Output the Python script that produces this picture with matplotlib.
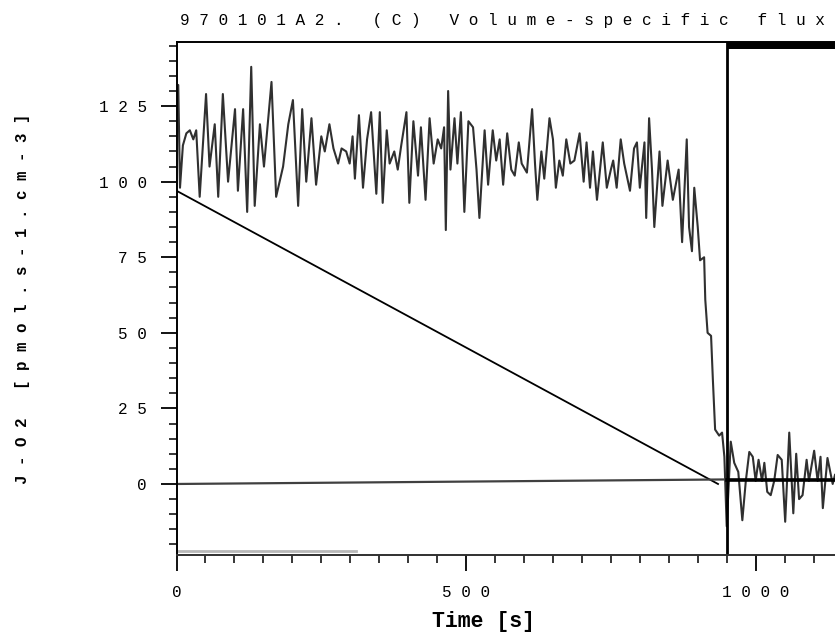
import matplotlib as mpl
mpl.use('agg')
import matplotlib.pyplot as plt
from matplotlib.ticker import MultipleLocator, FixedLocator

# flux trace vertices (time [s], J-O2)
flux_t = [0, 3, 6, 11, 17, 23, 29, 34, 40, 51, 57, 66, 72, 80, 89, 101, 106, 115, 122, 129,
          135, 144, 151, 164, 172, 184, 193, 201, 210, 217, 224, 233, 241, 250, 256, 264, 271, 279, 285, 293,
          299, 304, 308, 315, 322, 329, 336, 345, 351, 356, 363, 368, 376, 382, 388, 397, 402, 409, 417, 422,
          430, 437, 444, 451, 457, 462, 465, 469, 473, 480, 485, 491, 497, 504, 512, 518, 523, 532, 538, 546,
          552, 558, 564, 571, 578, 584, 591, 596, 605, 614, 619, 623, 630, 635, 644, 650, 655, 661, 667, 673,
          680, 687, 696, 703, 708, 714, 719, 726, 736, 743, 750, 754, 760, 767, 773, 783, 790, 795, 800, 808,
          811, 816, 821, 825, 834, 839, 848, 857, 867, 873, 881, 885, 890, 894, 900, 904, 911, 913, 917, 923,
          926, 930, 937, 942, 946, 950, 957, 963, 970, 977, 983, 989, 995, 1000, 1005, 1011, 1015, 1020, 1026, 1032,
          1038, 1045, 1051, 1058, 1065, 1070, 1075, 1081, 1088, 1092, 1101, 1107, 1112, 1116, 1124, 1133, 1137]
flux_v = [122, 132, 98, 112, 116, 117, 114, 117, 95, 129, 105, 119, 95, 129, 100, 124, 97, 124, 90, 138,
          92, 119, 105, 133, 95, 105, 119, 127, 92, 124, 100, 121, 99, 115, 110, 119, 111, 106, 111, 110,
          106, 115, 101, 122, 98, 114, 123, 96, 123, 93, 117, 106, 110, 104, 112, 123, 93, 120, 102, 118,
          94, 121, 106, 114, 111, 118, 84, 130, 104, 121, 106, 123, 90, 120, 118, 104, 88, 117, 99, 117,
          107, 114, 99, 116, 104, 102, 113, 106, 103, 124, 106, 94, 110, 101, 121, 114, 98, 107, 102, 114,
          106, 107, 116, 100, 113, 98, 110, 94, 113, 98, 104, 107, 98, 114, 106, 97, 111, 113, 98, 113,
          88, 121, 104, 85, 110, 92, 107, 94, 104, 80, 114, 85, 77, 98, 85, 74, 75, 61, 50, 49,
          35, 18, 16, 17, 9, -14, 14, 7, 4, -12, 1, 10.6, 9, 1, 8, 1, 7, -2.6, -3.7, 1,
          9.6, 8, -12.5, 17, -9.7, 10, -5, -3.7, 8, 1, 11, 1, 9, -8, 8.6, 0, 3]

# straight reference lines
diag_t = [0, 935]
diag_v = [97, 0]
base_t = [0, 950]
base_v = [0, 1.5]
base2_t = [950, 1137]
base2_v = [1.2, 1.2]
low_t = [0, 310]
low_v = [-22.3, -22.3]
mark_t = 950

yticks = [0, 25, 50, 75, 100, 125]
xticks = [0, 500, 1000]

def spaced(s):
    return ' '.join(s)

mono = 'Liberation Mono'

fig = plt.figure(figsize=(8.35, 6.33), dpi=100, facecolor='w')
ax = fig.add_axes([0.2114, 0.1232, 0.7886, 0.8104])

ax.plot(flux_t, flux_v, color='#303030', lw=1.5)
ax.plot(diag_t, diag_v, color='black', lw=1.3)
ax.plot(base_t, base_v, color='#404040', lw=1.6)
ax.plot(base2_t, base2_v, color='black', lw=2.6)
ax.plot(low_t, low_v, color='#b8b8b8', lw=2)
ax.axvline(mark_t, color='black', lw=2)
ax.fill_between([mark_t, 1140], 143.9, 146.5, color='black', lw=0)

ax.set_xlim(0, 1137)
ax.set_ylim(-23.5, 146.2)

ax.spines['right'].set_visible(False)
for s in ['left', 'bottom', 'top']:
    ax.spines[s].set_linewidth(1.4)
ax.spines['bottom'].set_color('#303030')

ax.xaxis.set_major_locator(FixedLocator(xticks))
ax.yaxis.set_major_locator(FixedLocator(yticks))
ax.xaxis.set_minor_locator(MultipleLocator(50))
ax.yaxis.set_minor_locator(MultipleLocator(5))
ax.set_xticklabels([spaced(str(v)) for v in xticks], family=mono, fontsize=11.5)
ax.set_yticklabels([spaced(str(v)) for v in yticks], family=mono, fontsize=11.5)
ax.tick_params(which='major', direction='out', length=11.5, width=1.3, pad=10)
ax.tick_params(which='minor', direction='out', length=5.5, width=1.1)

fig.text(180 / 835, 1 - 20 / 633, spaced('970101A2. (C) Volume-specific flux'),
         family=mono, fontsize=11.6, ha='left', va='center')
fig.text(23 / 835, 1 - 299 / 633, spaced('J-O2 [pmol.s-1.cm-3]'), family=mono,
         fontsize=11.3, fontweight='bold', rotation=90, ha='center', va='center')
fig.text(432 / 835, 1 - 621 / 633, 'Time [s]', family=mono, fontsize=15.5,
         fontweight='bold', ha='left', va='center')

plt.savefig('out.png', dpi=100)
